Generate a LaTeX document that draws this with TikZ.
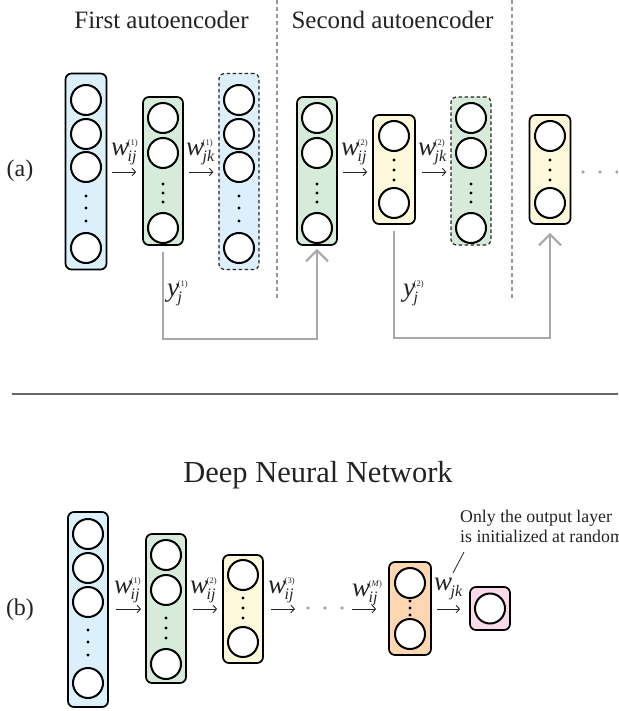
\documentclass[tikz,border=0pt]{standalone}
\usepackage{fontspec}
\setmainfont{Liberation Serif}
\usetikzlibrary{arrows.meta}
\definecolor{cblue}{RGB}{220,240,251}
\definecolor{cgreen}{RGB}{214,235,218}
\definecolor{cyellow}{RGB}{253,248,220}
\definecolor{corange}{RGB}{253,214,178}
\definecolor{cpink}{RGB}{249,218,232}
\definecolor{cgrayline}{RGB}{168,168,168}
\definecolor{cdash}{RGB}{150,150,150}
\definecolor{ctext}{RGB}{35,35,35}
\newcommand\wlab[2]{{\fontsize{27}{27}\selectfont\itshape w}\kern-1.5pt\rlap{\raisebox{-6pt}{\fontsize{16}{16}\selectfont\itshape #1}}\raisebox{10pt}{\fontsize{8.5}{8.5}\selectfont (#2)}}
\newcommand\wplain[1]{{\fontsize{27}{27}\selectfont\itshape w}\kern-1.5pt\raisebox{-6pt}{\fontsize{16}{16}\selectfont\itshape #1}}
\newcommand\ylab[1]{{\fontsize{27}{27}\selectfont\itshape y}\kern-1.5pt\rlap{\raisebox{-6pt}{\fontsize{16}{16}\selectfont\itshape j}}\raisebox{10pt}{\fontsize{8.5}{8.5}\selectfont (#1)}}
\tikzset{
  layerbox/.style={draw=black, line width=1.7pt, rounded corners=6pt, inner sep=0pt},
  dashbox/.style={draw=black!85, line width=1.2pt, dash pattern=on 3.5pt off 2.5pt, rounded corners=5pt, inner sep=0pt},
  neuron/.style={circle, draw=black, line width=2pt, fill=white, minimum size=30pt, inner sep=0pt},
  wire/.style={draw=ctext, line width=0.9pt, -{Straight Barb[length=3.5pt,width=7.5pt]}},
  feed/.style={draw=cgrayline, line width=2.2pt, -{Straight Barb[length=11pt,width=22pt]}},
  sepline/.style={draw=cdash, line width=1.5pt, dash pattern=on 4pt off 3pt},
  lab/.style={text=ctext, inner sep=0pt, anchor=base west},
  title/.style={inner sep=0pt, anchor=base, text=ctext},
}
\begin{document}
\begin{tikzpicture}[x=1pt,y=-1pt]
\useasboundingbox (0,0) rectangle (618,711);
\clip (0,0) rectangle (618,711);

% titles
\node[title, font=\fontsize{25}{25}\selectfont] (t1) at (161.5,29) {First autoencoder};
\node[title, font=\fontsize{25}{25}\selectfont] (t2) at (392.5,29) {Second autoencoder};
\node[title, font=\fontsize{24}{24}\selectfont] (pa) at (20,177) {(a)};

% separators
\coordinate (s1t) at (277,0); \coordinate (s1b) at (277,300);
\coordinate (s2t) at (512,0); \coordinate (s2b) at (512,298);
\draw[sepline] (s1t) -- (s1b);
\draw[sepline] (s2t) -- (s2b);

% ---------- (a) layers ----------
\node[layerbox, fill=cblue, minimum width=41pt, minimum height=196pt] (L1) at (86,171.5) {};
\node[layerbox, fill=cgreen, minimum width=40pt, minimum height=148pt] (L2) at (163,171) {};
\node[dashbox, fill=cblue, minimum width=40pt, minimum height=196pt] (L3) at (239,171.5) {};
\node[layerbox, fill=cgreen, minimum width=40pt, minimum height=148pt] (L4) at (317,171) {};
\node[layerbox, fill=cyellow, minimum width=42pt, minimum height=109pt] (L5) at (394,169.5) {};
\node[dashbox, fill=cgreen, minimum width=40pt, minimum height=148pt] (L6) at (471,171) {};
\node[layerbox, fill=cyellow, minimum width=41pt, minimum height=109pt] (L7) at (550,169.5) {};

% neurons of tall blue layers
\foreach \L/\x in {L1/86, L3/239}{
  \foreach \y [count=\i] in {100,134,167,248} \node[neuron] (\L c\i) at (\x,\y) {};
  \foreach \y in {196,208,221} \fill (\x,\y) circle (1.7pt);
}
% neurons of green layers
\foreach \L/\x in {L2/163, L4/317, L6/471}{
  \foreach \y [count=\i] in {118,153,228} \node[neuron] (\L c\i) at (\x,\y) {};
  \foreach \y in {184,193,202} \fill (\x,\y) circle (1.7pt);
}
% neurons of yellow layers
\foreach \L/\x in {L5/394, L7/550}{
  \foreach \y [count=\i] in {136,203} \node[neuron] (\L c\i) at (\x,\y) {};
  \foreach \y in {160,170,180} \fill (\x,\y) circle (1.7pt);
}

% weight arrows (a)
\draw[wire, shorten <=5pt, shorten >=6pt] (L1.east |- 0,172) -- (L2.west |- 0,172);
\draw[wire, shorten <=5pt, shorten >=5pt] (L2.east |- 0,172) -- (L3.west |- 0,172);
\draw[wire, shorten <=5pt, shorten >=5pt] (L4.east |- 0,172) -- (L5.west |- 0,172);
\draw[wire, shorten <=6pt, shorten >=4pt] (L5.east |- 0,172) -- (L6.west |- 0,172);
\node[lab] (wa1) at (111,156) {\wlab{ij}{1}};
\node[lab] (wa2) at (186,156) {\wlab{jk}{1}};
\node[lab] (wa3) at (341,156) {\wlab{ij}{2}};
\node[lab] (wa4) at (418,156) {\wlab{jk}{2}};

% trailing dots (a)
\foreach \x in {583,600,617} \fill[cgrayline] (\x,172) circle (1.8pt);

% feedback connectors
\draw[feed] ([yshift=-6pt]L2.south) -- ++(0,87) -| ([yshift=-3pt]L4.south);
\draw[feed] ([yshift=-6pt]L5.south) -- ++(0,107) -| ([yshift=-8pt]L7.south);
\node[lab] (ya1) at (167,296) {\ylab{1}};
\node[lab] (ya2) at (403,296) {\ylab{2}};

% horizontal separator
\coordinate (hl) at (12,394); \coordinate (hr) at (618,394);
\draw[draw=black!60, line width=1.3pt] (hl) -- (hr);

% ---------- (b) ----------
\node[title, font=\fontsize{30.5}{30.5}\selectfont] (t3) at (318,482) {Deep Neural Network};
\node[title, font=\fontsize{24}{24}\selectfont] (pb) at (20,615) {(b)};

\node[layerbox, fill=cblue, minimum width=40pt, minimum height=195pt] (B1) at (88,609.5) {};
\node[layerbox, fill=cgreen, minimum width=40pt, minimum height=149pt] (B2) at (166,608.5) {};
\node[layerbox, fill=cyellow, minimum width=40pt, minimum height=108pt] (B3) at (243,609) {};
\node[layerbox, fill=corange, minimum width=42pt, minimum height=93pt] (B4) at (410,608.5) {};
\node[layerbox, fill=cpink, minimum width=40pt, minimum height=43pt] (B5) at (490,608.5) {};

\foreach \y [count=\i] in {534,568,602,683} \node[neuron] (B1c\i) at (88,\y) {};
\foreach \y in {630,642,655} \fill (88,\y) circle (1.7pt);
\foreach \y [count=\i] in {555,590,664} \node[neuron] (B2c\i) at (166,\y) {};
\foreach \y in {618,628,638} \fill (166,\y) circle (1.7pt);
\foreach \y [count=\i] in {575,642} \node[neuron] (B3c\i) at (243,\y) {};
\foreach \y in {598,608,618} \fill (243,\y) circle (1.7pt);
\foreach \y [count=\i] in {583,634} \node[neuron] (B4c\i) at (410,\y) {};
\foreach \y in {601,608,615} \fill (410,\y) circle (1.7pt);
\node[neuron] (B5c1) at (490,608.5) {};

\coordinate (d3e) at (295,609);
\coordinate (dMs) at (352,609);
\draw[wire, shorten <=7pt, shorten >=4pt] (B1.east |- 0,609) -- (B2.west |- 0,609);
\draw[wire, shorten <=6pt, shorten >=5pt] (B2.east |- 0,609) -- (B3.west |- 0,609);
\draw[wire, shorten <=7pt] (B3.east |- 0,609) -- (d3e);
\foreach \x in {308,325,342} \fill[cgrayline] (\x,608) circle (1.8pt);
\draw[wire, shorten >=12pt] (dMs) -- (B4.west |- 0,609);
\draw[wire, shorten <=5pt, shorten >=9pt] (B4.east |- 0,609) -- (B5.west |- 0,609);

\node[lab] (wb1) at (114,593) {\wlab{ij}{1}};
\node[lab] (wb2) at (190,593) {\wlab{ij}{2}};
\node[lab] (wb3) at (268,593) {\wlab{ij}{3}};
\node[lab] (wb4) at (352,596) {\wlab{ij}{\textit{M}}};
\node[lab] (wb5) at (434,590) {\wplain{jk}};

% annotation
\node[inner sep=0pt, anchor=north west, align=left, text=ctext, font=\fontsize{17.8}{20.5}\selectfont] (note) at (460,509.5) {Only the output layer\\is initialized at random};
\coordinate (leadtop) at (464,552);
\coordinate (leadbot) at (453,573);
\draw[draw=ctext, line width=0.8pt] (leadtop) -- (leadbot);
\end{tikzpicture}
\end{document}
